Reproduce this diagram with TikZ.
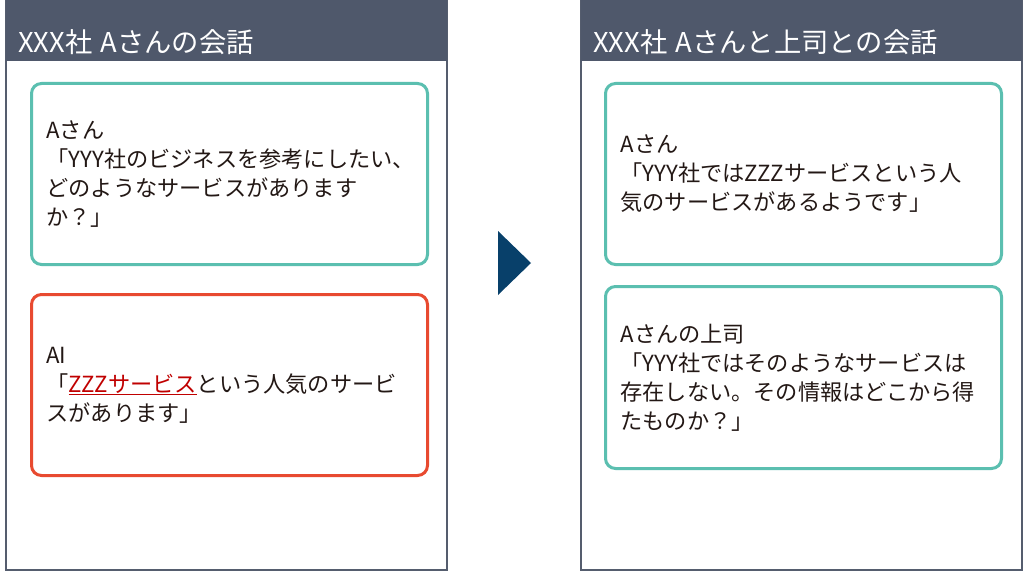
\documentclass[tikz,border=0pt]{standalone}
\usepackage{fontspec}
\setmainfont{Noto Sans CJK JP}
\definecolor{hdr}{HTML}{4F586B}
\definecolor{frame}{HTML}{555D6E}
\definecolor{teal}{HTML}{5BBFB0}
\definecolor{redbox}{HTML}{E84A30}
\definecolor{ink}{HTML}{231815}
\definecolor{zred}{HTML}{C00000}
\definecolor{arrowc}{HTML}{08406A}
\tikzset{
  panel/.style={draw=frame, line width=2.5pt, fill=white},
  header/.style={fill=hdr},
  title/.style={anchor=west, text=white, inner sep=0pt, font=\fontsize{27.3}{31}\selectfont},
  msg/.style={draw=#1, line width=3pt, rounded corners=10pt, anchor=north west,
    text width=366pt, align=left, inner xsep=15pt, inner ysep=0pt,
    text=ink, font=\fontsize{22.2}{29}\selectfont},
}
\begin{document}
\begin{tikzpicture}[x=1pt,y=-1pt]
\useasboundingbox (0,0) rectangle (1024,572);
% left panel
\draw[panel] (6,-2) rectangle (447,570);
\fill[header] (6,-2) rectangle (447,61);
\node[title] (t1) at (18,42) {XXX社\hspace{0.3em}Aさんの会話};
\node[msg=teal, minimum height=181pt] (a1) at (30,82) {Aさん\\「YYY社のビジネスを参考にしたい、\\どのようなサービスがあります\\か？」};
\node[msg=redbox, minimum height=181pt] (a2) at (30,293) {AI\\「\textcolor{zred}{\underline{ZZZサービス}}という人気のサービ\\スがあります」};
% arrow
\fill[arrowc] (498,231) -- (531,263) -- (498,295) -- cycle;
% right panel
\draw[panel] (581,-2) rectangle (1022,570);
\fill[header] (581,-2) rectangle (1022,61);
\node[title] (t2) at (593,42) {XXX社\hspace{0.3em}Aさんと上司との会話};
\node[msg=teal, minimum height=181pt] (b1) at (604,82) {Aさん\\「YYY社ではZZZサービスという人\\気のサービスがあるようです」};
\node[msg=teal, minimum height=182pt] (b2) at (604,285) {Aさんの上司\\「YYY社ではそのようなサービスは\\存在しない。その情報はどこから得\\たものか？」};
\end{tikzpicture}
\end{document}
